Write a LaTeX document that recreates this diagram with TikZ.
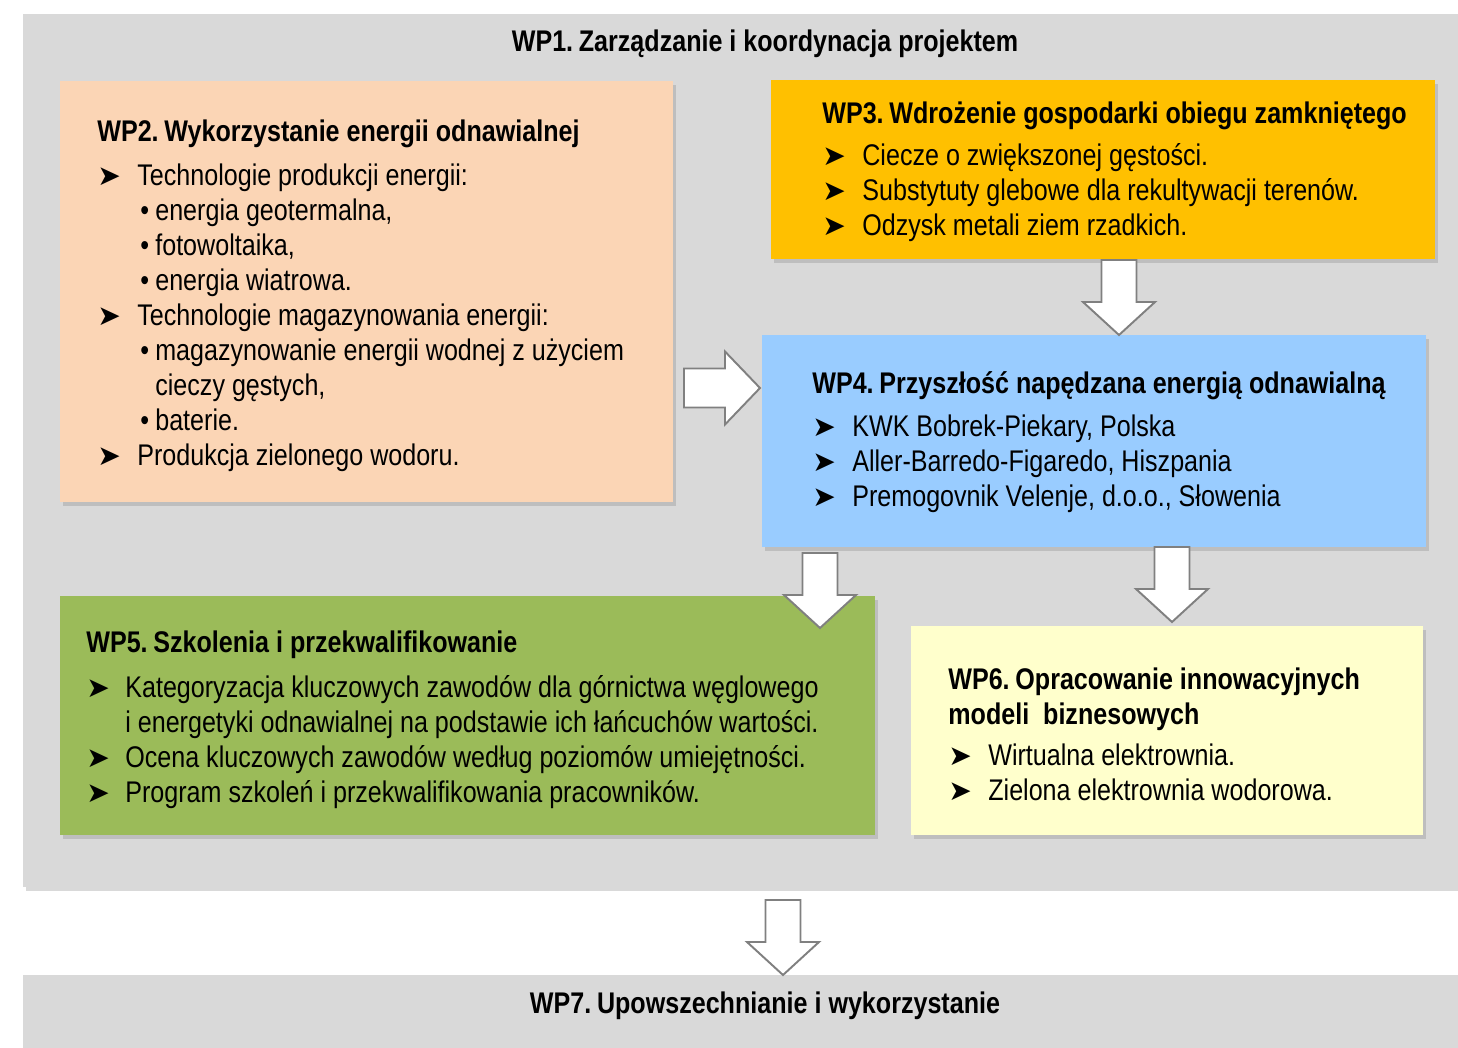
\documentclass[tikz,border=0pt]{standalone}
\usepackage{fontspec}
\setmainfont[FakeStretch=0.84]{Liberation Sans}
\newfontfamily\symfont{DejaVu Sans}
\usetikzlibrary{fit,shadows}

\definecolor{wpgray}{HTML}{D9D9D9}
\definecolor{wppeach}{HTML}{FBD5B5}
\definecolor{wpgold}{HTML}{FFC000}
\definecolor{wpblue}{HTML}{99CCFF}
\definecolor{wpgreen}{HTML}{9BBB59}
\definecolor{wpyellow}{HTML}{FFFFCC}
\definecolor{wpline}{HTML}{808080}

\newcommand{\wpfont}{\fontsize{17}{19.92}\selectfont}
\newcommand{\wparr}{\makebox[0.8cm][l]{\symfont\fontsize{16}{16}\selectfont ➤}}
\newcommand{\wpsub}{\hspace*{0.86cm}\makebox[0.3cm][l]{•}}
\newcommand{\wpno}[1]{WP#1.\hspace{-0.12em}}

\begin{document}
\begin{tikzpicture}[x=0.2mm, y=-0.2mm,
	box/.style={inner sep=0pt, draw=none, drop shadow={shadow xshift=0.05cm, shadow yshift=-0.07cm, opacity=0.3}},
	txt/.style={anchor=north west, inner sep=0pt, align=left, font=\wpfont},
	ttl/.style={inner sep=0pt, font=\wpfont\bfseries},
	blk/.style={draw=wpline, line width=1.1pt, fill=white, line join=miter},
	downarr/.pic={\draw[blk] (-17.5,0) -- (17.5,0) -- (17.5,42) -- (36,42) -- (0,75) -- (-36,42) -- (-17.5,42) -- cycle;},
	rightarr/.pic={\draw[blk] (0,-19.5) -- (41,-19.5) -- (41,-36.5) -- (76,0) -- (41,36.5) -- (41,19.5) -- (0,19.5) -- cycle;}]
	\useasboundingbox (0,0) rectangle (1458,1047);
	
	% outer frames
	\node[box, fill=wpgray, fit={(23,14) (1470,887)}] (wp1) {};
	\node[ttl] (wp1t) at (765,44) {\wpno1 Zarządzanie i koordynacja projektem};
	\node[box, fill=wpgray, fit={(23,975) (1470,1060)}] (wp7) {};
	\node[ttl] (wp7t) at (765,1006) {\wpno7 Upowszechnianie i wykorzystanie};
	
	% work packages
	\node[box, fill=wppeach, fit={(60,81) (673,502)}] (wp2) {};
	\node[box, fill=wpgold, fit={(771,80) (1435,259)}] (wp3) {};
	\node[box, fill=wpblue, fit={(762,335) (1426,547)}] (wp4) {};
	\node[box, fill=wpgreen, fit={(60,596) (875,835)}] (wp5) {};
	\node[box, fill=wpyellow, fit={(911,626) (1423,835)}] (wp6) {};
	
	\node[txt] (wp2t) at (97,119) {\textbf{\wpno2 Wykorzystanie energii odnawialnej}\\[0.18cm]
		\wparr Technologie produkcji energii:\\
		\wpsub energia geotermalna,\\
		\wpsub fotowoltaika,\\
		\wpsub energia wiatrowa.\\
		\wparr Technologie magazynowania energii:\\
		\wpsub magazynowanie energii wodnej z użyciem\\
		\hspace*{1.16cm}cieczy gęstych,\\
		\wpsub baterie.\\
		\wparr Produkcja zielonego wodoru.};
	
	\node[txt] (wp3t) at (822,101) {\textbf{\wpno3 Wdrożenie gospodarki obiegu zamkniętego}\\[0.14cm]
		\wparr Ciecze o zwiększonej gęstości.\\
		\wparr Substytuty glebowe dla rekultywacji terenów.\\
		\wparr Odzysk metali ziem rzadkich.};
	
	\node[txt] (wp4t) at (812,371) {\textbf{\wpno4 Przyszłość napędzana energią odnawialną}\\[0.16cm]
		\wparr KWK Bobrek-Piekary, Polska\\
		\wparr Aller-Barredo-Figaredo, Hiszpania\\
		\wparr Premogovnik Velenje, d.o.o., Słowenia};
	
	\node[txt] (wp5t) at (86,630) {\textbf{\wpno5 Szkolenia i przekwalifikowanie}\\[0.2cm]
		\makebox[0.78cm][l]{\symfont\fontsize{16}{16}\selectfont ➤}Kategoryzacja kluczowych zawodów dla górnictwa węglowego\\
		\hspace*{0.78cm}i energetyki odnawialnej na podstawie ich łańcuchów wartości.\\
		\makebox[0.78cm][l]{\symfont\fontsize{16}{16}\selectfont ➤}Ocena kluczowych zawodów według poziomów umiejętności.\\
		\makebox[0.78cm][l]{\symfont\fontsize{16}{16}\selectfont ➤}Program szkoleń i przekwalifikowania pracowników.};
	
	\node[txt] (wp6t) at (948,667) {\textbf{\wpno6 Opracowanie innowacyjnych}\\
		\textbf{modeli\ \ biznesowych}\\[0.12cm]
		\wparr Wirtualna elektrownia.\\
		\wparr Zielona elektrownia wodorowa.};
	
	% block arrows
	\pic at (684,388) {rightarr};
	\pic at (1119,260) {downarr};
	\pic at (820,553) {downarr};
	\pic at (1172,547) {downarr};
	\pic at (783,900) {downarr};
\end{tikzpicture}
\end{document}
